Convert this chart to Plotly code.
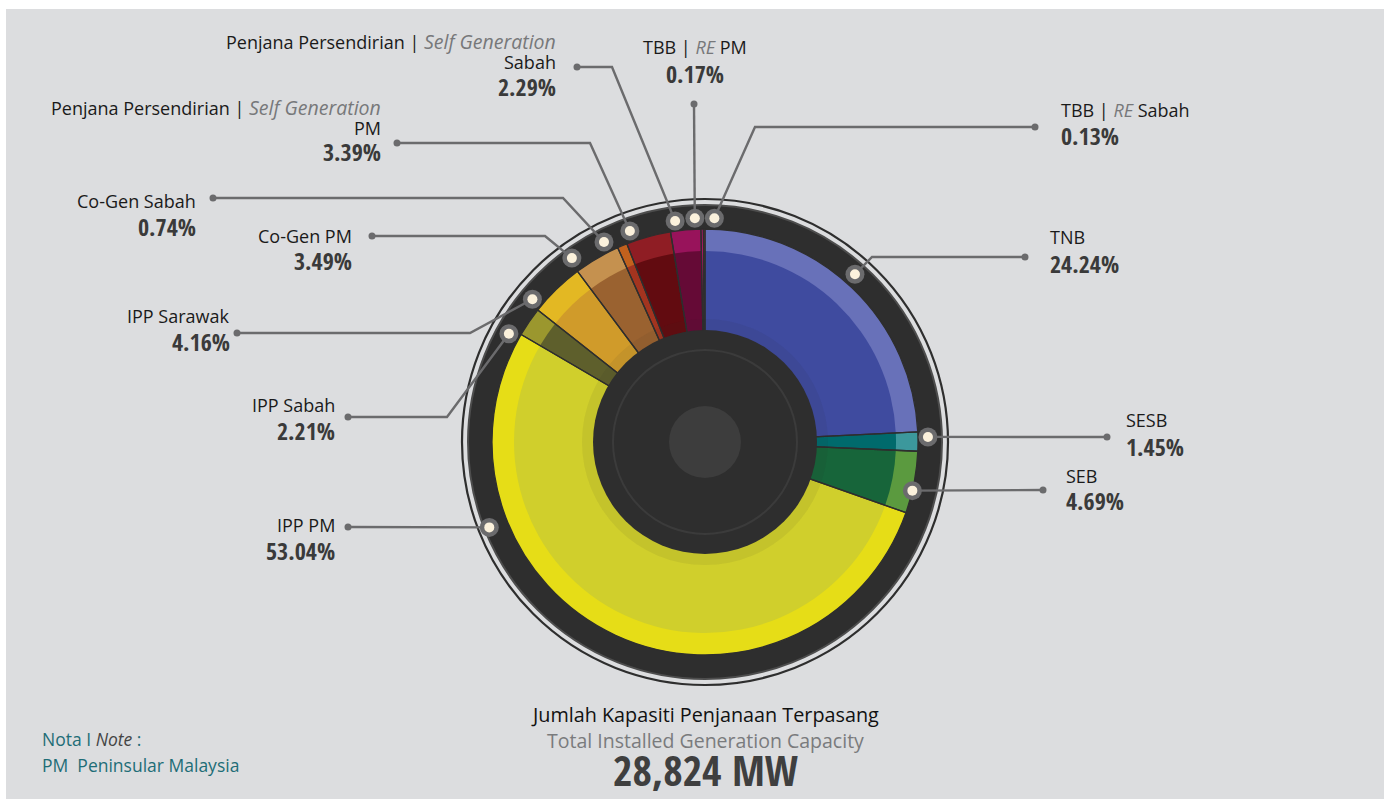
import math
import plotly.graph_objects as go

# ---------------- data ----------------
segments = ["TNB", "SESB", "SEB", "IPP PM", "IPP Sabah", "IPP Sarawak",
            "Co-Gen PM", "Co-Gen Sabah", "SG PM", "SG Sabah", "TBB PM", "TBB Sabah"]
shares = [24.24, 1.45, 4.69, 53.04, 2.21, 4.16, 3.49, 0.74, 3.39, 2.29, 0.17, 0.13]
SG_TEXT = ("Penjana Persendirian | <i><span style='color:#77787a;font-size:19.5px'>"
           "Self Generation</span></i>")
RE_PM = "TBB | <i><span style='color:#77787a'>RE</span></i> PM"
RE_SABAH = "TBB | <i><span style='color:#77787a'>RE</span></i> Sabah"
name_lines = [
    ["TNB"], ["SESB"], ["SEB"], ["IPP PM"], ["IPP Sabah"], ["IPP Sarawak"],
    ["Co-Gen PM"], ["Co-Gen Sabah"],
    [SG_TEXT, "PM"], [SG_TEXT, "Sabah"],
    [RE_PM], [RE_SABAH],
]
total_title = "Jumlah Kapasiti Penjanaan Terpasang"
total_subtitle = "Total Installed Generation Capacity"
total_value = "28,824 MW"
note_lines = ["Nota I <i><span style='color:#444'>Note</span></i> :", "PM  Peninsular Malaysia"]

# ---------------- style / layout ----------------
inner_colors = ['#3f4b9f', '#006a6c', '#17653a', '#d0cf2c', '#5e5f2c', '#d09b2a',
                '#9a6230', '#a3341f', '#620b10', '#650a36', '#ff0a8e', '#e3202a']
outer_colors = ['#6871b9', '#3c989c', '#5b9a3f', '#e6dd17', '#9b972e', '#e3b823',
                '#c5914f', '#c2611d', '#8f1d24', '#98135b', '#ff0a8e', '#e3202a']
W, H = 1384, 799
CX, CY = 705, 442
R_PIE, R_INNER_BAND, R_HOLE = 213, 191, 112
R_RING, R_LINE = 237, 243
BG = '#dcdddf'
DARK = '#2e2e2e'
LEADER = '#6b6b6d'

dot_polar = [(41.8, 225), (88.7, 223), (103.2, 213), (248.4, 232), (298.9, 224), (309.6, 224),
             (324.1, 227), (333.2, 224), (340.4, 224), (352.3, 223), (357.4, 224), (362.4, 224)]
elbows = [(872, 257), None, None, None, (447, 417), (470, 333), (545, 236), (563, 198),
          (590, 143), (612, 67), None, (755, 127)]
ends = [(1025, 257), (1107, 437), (1043, 490), (348, 527), (348, 417), (237, 333), (372, 236),
        (213, 198), (397, 143), (577, 67), (694, 104), (1035, 127)]
# label anchor: (x, xanchor, [name line y...], pct y)
label_pos = [
    (1049, 'left', [237], 263), (1125, 'left', [420], 446), (1065, 'left', [476], 500),
    (336, 'right', [525], 550), (336, 'right', [405], 430), (231, 'right', [316], 341),
    (353, 'right', [236], 260), (197, 'right', [201], 226),
    (382, 'right', [107, 128], 151), (557, 'right', [41, 62], 86),
    (695, 'center', [47], 73), (1060, 'left', [110], 135),
]

LABEL_FONT = "'Open Sans', Lato, sans-serif"
PCT_FONT = "'Open Sans Condensed', 'Roboto Condensed', sans-serif"


def dom(r):
    return dict(x=[(CX - r) / W, (CX + r) / W], y=[1 - (CY + r) / H, 1 - (CY - r) / H])


fig = go.Figure()
fig.add_trace(go.Pie(labels=segments, values=shares, sort=False, direction='clockwise', rotation=0,
                     marker=dict(colors=outer_colors, line=dict(width=0)),
                     textinfo='none', hoverinfo='skip', domain=dom(R_PIE), showlegend=False))
fig.add_trace(go.Pie(labels=segments, values=shares, sort=False, direction='clockwise', rotation=0,
                     marker=dict(colors=inner_colors, line=dict(width=0)),
                     textinfo='none', hoverinfo='skip', domain=dom(R_INNER_BAND), showlegend=False))
fig.add_trace(go.Pie(labels=segments, values=shares, sort=False, direction='clockwise', rotation=0,
                     marker=dict(colors=['rgba(0,0,0,0)'] * len(shares), line=dict(color=DARK, width=1.3)),
                     textinfo='none', hoverinfo='label+percent', domain=dom(R_PIE), showlegend=False))

shapes = []


def circle(r, fill, line_color=None, line_width=0, layer='above', cx=CX, cy=CY):
    return dict(type='circle', xref='x', yref='y', x0=cx - r, x1=cx + r, y0=cy - r, y1=cy + r,
                fillcolor=fill, line=dict(color=line_color or 'rgba(0,0,0,0)', width=line_width),
                layer=layer)


shapes.append(dict(type='rect', xref='x', yref='y', x0=6, x1=W, y0=9, y1=H,
                   fillcolor=BG, line=dict(width=0), layer='below'))
shapes.append(circle(R_LINE, 'rgba(0,0,0,0)', DARK, 2.2, layer='below'))
shapes.append(circle(R_RING, DARK, '#4d4d4d', 2, layer='below'))
shapes.append(circle(R_HOLE + 11, 'rgba(40,40,40,0.07)'))
shapes.append(circle(R_HOLE, DARK))
shapes.append(circle(92, 'rgba(0,0,0,0)', '#3b3b3b', 2))
shapes.append(circle(36, '#3d3d3d'))

for (ang, rd), elb, end in zip(dot_polar, elbows, ends):
    a = math.radians(ang)
    dx, dy = CX + rd * math.sin(a), CY - rd * math.cos(a)
    pts = [(dx, dy)] + ([elb] if elb else []) + [end]
    path = 'M ' + ' L '.join(f'{x:.1f},{y:.1f}' for x, y in pts)
    shapes.append(dict(type='path', xref='x', yref='y', path=path,
                       line=dict(color=LEADER, width=2.4), layer='above'))
    shapes.append(circle(3.5, LEADER, cx=end[0], cy=end[1]))
    shapes.append(circle(9.5, LEADER, cx=dx, cy=dy))
    shapes.append(circle(5, '#fbf1dc', cx=dx, cy=dy))

annotations = []
for names, share, (lx, anchor, ys, py) in zip(name_lines, shares, label_pos):
    for t, y in zip(names, ys):
        annotations.append(dict(x=lx, y=y, xref='x', yref='y', text=t, showarrow=False,
                                xanchor=anchor, yanchor='middle', borderpad=0,
                                font=dict(family=LABEL_FONT, size=18, color='#1a1a1a')))
    annotations.append(dict(x=lx, y=py, xref='x', yref='y', text=f'<b>{share:.2f}%</b>',
                            showarrow=False, xanchor=anchor, yanchor='middle', borderpad=0,
                            font=dict(family=PCT_FONT, size=24, color='#3a3a3a')))

annotations += [
    dict(x=705, y=714, xref='x', yref='y', text=total_title, showarrow=False,
         font=dict(family=LABEL_FONT, size=19.8, color='#111111')),
    dict(x=705, y=740, xref='x', yref='y', text=total_subtitle, showarrow=False,
         font=dict(family=LABEL_FONT, size=19.5, color='#7a7b7d')),
    dict(x=705, y=799, xref='x', yref='y', text=f'<b>{total_value}</b>', showarrow=False,
         yanchor='bottom', borderpad=0,
         font=dict(family=PCT_FONT, size=42, color='#3f3f3f')),
    dict(x=40, y=739, xref='x', yref='y', text=note_lines[0],
         showarrow=False, xanchor='left', font=dict(family=LABEL_FONT, size=17.5, color='#1e6d77')),
    dict(x=40, y=765, xref='x', yref='y', text=note_lines[1], showarrow=False,
         xanchor='left', font=dict(family=LABEL_FONT, size=17.5, color='#1e6d77')),
]

fig.update_layout(
    width=W, height=H, margin=dict(l=0, r=0, t=0, b=0),
    paper_bgcolor='white', plot_bgcolor='rgba(0,0,0,0)',
    xaxis=dict(range=[0, W], visible=False, fixedrange=True, domain=[0, 1]),
    yaxis=dict(range=[H, 0], visible=False, fixedrange=True, domain=[0, 1]),
    shapes=shapes, annotations=annotations, showlegend=False,
)
fig.write_html("out.html", config={'displayModeBar': False},
               post_script="document.body.style.margin='0';document.body.style.overflow='hidden';")
